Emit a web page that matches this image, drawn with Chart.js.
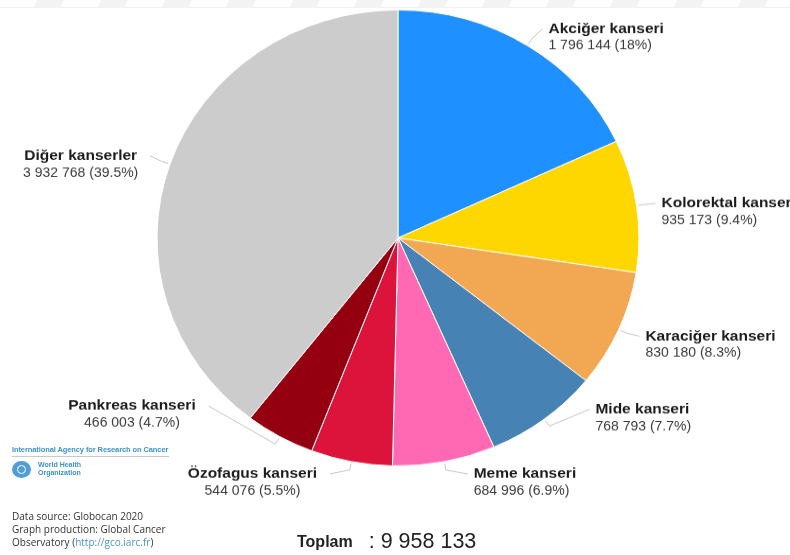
<!DOCTYPE html>
<html lang="tr">
<head>
<meta charset="utf-8">
<title>Kanser vakaları - Globocan 2020</title>
<script src="https://cdn.jsdelivr.net/npm/chart.js@4/dist/chart.umd.min.js"></script>
<style>
  html, body { margin: 0; padding: 0; background: #fff; }
  body { width: 790px; height: 555px; position: relative; overflow: hidden; font-family: "Liberation Sans", Arial, sans-serif; }
  #band { position: absolute; left: 0; top: 0; width: 790px; height: 7px; z-index: 3;
          background: repeating-linear-gradient(115deg, #ffffff 0 34px, #f1f1f1 34px 58px);
          border-bottom: 1px solid #f0f0f0; opacity: 0.85; }
  #wrap { position: absolute; left: 0; top: 0; width: 790px; height: 587px; transform-origin: 0 0; transform: scaleY(0.946); }
  #pie { display: block; }
  .iarc { position: absolute; left: 12px; top: 445px; font: bold 7.5px "Liberation Sans", Arial, sans-serif; color: #3c93c9; letter-spacing: -0.1px; white-space: nowrap; }
  .iarc-line { position: absolute; left: 12px; top: 456px; width: 157px; height: 1px; background: #c9c9c9; }
  .who-mark { position: absolute; left: 12px; top: 461px; width: 19px; height: 17px; border-radius: 50%; background: #4f9fd6; }
  .who-mark::after { content: ""; position: absolute; left: 5px; top: 4px; width: 9px; height: 9px; border-radius: 50%; border: 1.5px solid #ffffff; box-sizing: border-box; }
  .who-text { position: absolute; left: 38px; top: 461px; font: bold 7px/8px "Liberation Sans", Arial, sans-serif; color: #3c93c9; }
  .source { position: absolute; left: 12px; top: 510px; font: 10px/13px "Open Sans", "DejaVu Sans", sans-serif; color: #333; white-space: nowrap; }
  .source a { color: #4a93cc; text-decoration: none; }
  .total { position: absolute; left: 297px; top: 529px; white-space: nowrap; color: #222; }
  .total b { font: bold 16px "Liberation Sans", Arial, sans-serif; vertical-align: middle; }
  .total span { font: 21.5px "Liberation Sans", Arial, sans-serif; margin-left: 16px; vertical-align: middle; }
</style>
</head>
<body>
<div id="band"></div>
<div id="wrap"><canvas id="pie" width="790" height="587"></canvas></div>

<div class="iarc">International Agency for Research on Cancer</div>
<div class="iarc-line"></div>
<div class="who-mark"></div>
<div class="who-text">World Health<br>Organization</div>
<div class="source">Data source: Globocan 2020<br>Graph production: Global Cancer<br>Observatory (<a>http://gco.iarc.fr</a>)</div>
<div class="total"><b>Toplam</b><span>: 9 958 133</span></div>

<script>
// Kanser türleri ve yeni vaka sayıları (Globocan 2020)
const categories = [
  'Akciğer kanseri',
  'Kolorektal kanser',
  'Karaciğer kanseri',
  'Mide kanseri',
  'Meme kanseri',
  'Özofagus kanseri',
  'Pankreas kanseri',
  'Diğer kanserler'
];
const cases = [1796144, 935173, 830180, 768793, 684996, 544076, 466003, 3932768];
const percentLabels = ['18%', '9.4%', '8.3%', '7.7%', '6.9%', '5.5%', '4.7%', '39.5%'];
const sliceColors = ['#1e90ff', '#ffd700', '#f2a853', '#4682b4', '#ff69b4', '#dc143c', '#94000f', '#cccccc'];

// Where each label sits relative to its slice's outer edge point
const labelPlacement = [
  [14, -16], [17, -2], [19, 6], [44, -12],
  [23, 11], [-21, 11], [-70, -34], [-18, -8]
];

function formatNumber(n) {
  return String(n).replace(/\B(?=(\d{3})+(?!\d))/g, ' ');
}

const sliceLabels = {
  id: 'sliceLabels',
  afterDatasetsDraw(chart, args, opts) {
    const ctx = chart.ctx;
    const meta = chart.getDatasetMeta(0);
    ctx.save();
    meta.data.forEach((arc, i) => {
      const p = arc.getProps(['x', 'y', 'startAngle', 'endAngle', 'outerRadius'], true);
      const mid = (p.startAngle + p.endAngle) / 2;
      const ex = p.x + Math.cos(mid) * (p.outerRadius + 2);
      const ey = p.y + Math.sin(mid) * (p.outerRadius + 2);
      const bx = p.x + Math.cos(mid) * (p.outerRadius + 9);
      const by = p.y + Math.sin(mid) * (p.outerRadius + 9);
      const [dx, dy] = opts.placement[i];
      const lx = ex + dx, ly = ey + dy;
      const rightSide = Math.cos(mid) >= 0;

      ctx.beginPath();
      ctx.moveTo(ex, ey);
      ctx.lineTo(bx, by);
      ctx.lineTo(lx, ly);
      ctx.strokeStyle = '#c4c4c4';
      ctx.lineWidth = 1;
      ctx.lineJoin = 'round';
      ctx.stroke();

      const title = chart.data.labels[i];
      const value = formatNumber(chart.data.datasets[0].data[i]) + ' (' + opts.percents[i] + ')';
      const titleFont = 'bold 15.5px "Liberation Sans", Arial, sans-serif';
      const valueFont = '14px "Liberation Sans", Arial, sans-serif';
      ctx.textBaseline = 'middle';
      ctx.font = titleFont;
      const titleW = ctx.measureText(title).width;
      if (rightSide) {
        ctx.textAlign = 'left';
        ctx.fillStyle = '#1b1b1b';
        ctx.fillText(title, lx + 6, ly);
        ctx.font = valueFont;
        ctx.fillStyle = '#3a3a3a';
        ctx.fillText(value, lx + 6, ly + 18);
      } else {
        const cx = lx - 13 - titleW / 2;
        ctx.textAlign = 'center';
        ctx.fillStyle = '#1b1b1b';
        ctx.fillText(title, cx, ly);
        ctx.font = valueFont;
        ctx.fillStyle = '#3a3a3a';
        ctx.fillText(value, cx, ly + 18);
      }
    });
    ctx.restore();
  }
};

new Chart(document.getElementById('pie'), {
  type: 'pie',
  data: {
    labels: categories,
    datasets: [{
      data: cases,
      backgroundColor: sliceColors,
      borderColor: '#ffffff',
      borderWidth: 1,
      hoverOffset: 0,
      radius: 241
    }]
  },
  options: {
    responsive: false,
    devicePixelRatio: 1,
    animation: false,
    layout: { padding: { left: 6, right: 0, top: 0, bottom: 84 } },
    plugins: {
      legend: { display: false },
      tooltip: { enabled: false },
      sliceLabels: { placement: labelPlacement, percents: percentLabels }
    }
  },
  plugins: [sliceLabels]
});
</script>
</body>
</html>
